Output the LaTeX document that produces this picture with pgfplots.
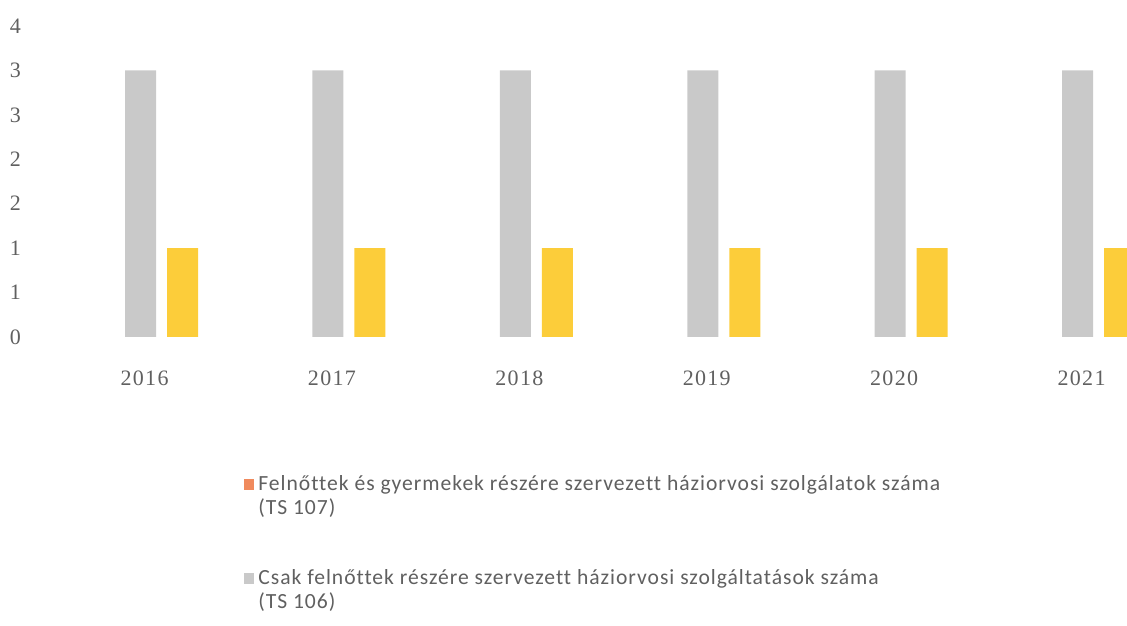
\documentclass[border=0pt]{standalone}
\usepackage{fontspec}
\setmainfont{Liberation Serif}
\newfontfamily\legfont[LetterSpace=4.5,Ligatures=NoCommon]{Carlito}
\newfontfamily\tickfont[LetterSpace=6]{Liberation Serif}
\usepackage{pgfplots}
\pgfplotsset{compat=1.18}
\definecolor{ts107}{HTML}{F08A5D}
\definecolor{ts106}{HTML}{C9C9C9}
\definecolor{ts3}{HTML}{FCCD3A}
\definecolor{txt}{HTML}{606060}
\begin{document}
\begin{tikzpicture}
\path[use as bounding box] (0,0) rectangle (563.5pt,312.5pt);
\begin{axis}[
  at={(15pt,144pt)}, anchor=south west,
  scale only axis, width=548.5pt, height=155.5pt,
  xmin=-0.59, xmax=5.264, ymin=0, ymax=3.5,
  axis line style={draw=none}, major tick style={draw=none},
  xtick={0,1,2,3,4,5}, xticklabels={2016,2017,2018,2019,2020,2021},
  ytick={0,0.5,1,1.5,2,2.5,3,3.5}, yticklabels={0,1,1,2,2,3,3,4},
  /pgf/number format/assume math mode=true,
  tick label style={font=\tickfont\fontsize{11}{13}\selectfont, text=txt},
  xticklabel style={yshift=-9pt, xshift=2pt},
  yticklabel style={xshift=-1pt},
  ybar, bar width=15.5pt,
  legend style={draw=none, at={(0.1945,-0.43)}, anchor=north west,
    font=\legfont\fontsize{10.8}{12}\selectfont, text=txt,
    cells={align=left, anchor=west}, row sep=22pt, inner sep=0pt},
  legend image code/.code={\fill[#1] (-0.3pt,3.3pt) rectangle (5pt,8.6pt);},
  legend cell align=left,
]
\addlegendimage{fill=ts107, draw=none}
\addlegendentry{Felnőttek és gyermekek részére szervezett háziorvosi szolgálatok száma\\(TS 107)}
\addplot[fill=ts106, draw=none, bar shift=0pt] coordinates {(0,3) (1,3) (2,3) (3,3) (4,3) (5,3)};
\addlegendentry{Csak felnőttek részére szervezett háziorvosi szolgáltatások száma\\(TS 106)}
\addplot[fill=ts3, draw=none, bar shift=21pt, forget plot] coordinates {(0,1) (1,1) (2,1) (3,1) (4,1) (5,1)};
\end{axis}
\end{tikzpicture}
\end{document}
